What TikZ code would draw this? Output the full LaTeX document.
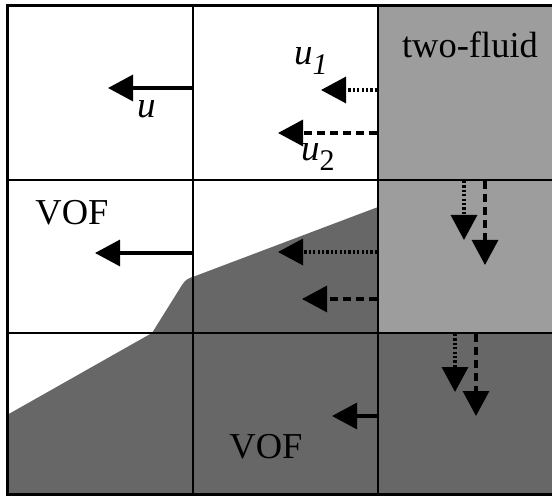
\documentclass[tikz,border=0pt]{standalone}
\usepackage{fontspec}
\setmainfont{Liberation Serif}
\usetikzlibrary{arrows.meta}
\definecolor{lightfluid}{RGB}{157,157,157}
\definecolor{darkfluid}{RGB}{103,103,103}
\begin{document}
\begin{tikzpicture}[x=1pt,y=-1pt,
  gridline/.style={line width=2.4pt,black},
  vel/.style={line width=3.2pt,-{Triangle[length=25pt,width=26pt]}},
  dotline/.style={vel,dash pattern=on 2.2pt off 2.2pt},
  dashline/.style={vel,dash pattern=on 8pt off 5pt},
  lbl/.style={font=\fontsize{36.5}{40}\selectfont,inner sep=0pt,anchor=base},
  ulbl/.style={font=\fontsize{37}{40}\selectfont\itshape,inner sep=0pt,anchor=base west}]
\useasboundingbox (0,0) rectangle (552,497);
\fill[white] (0,0) rectangle (552,497);
% fills
\fill[lightfluid] (378,6) rectangle (552,333);
\fill[darkfluid] (378,333) rectangle (552,494);
\fill[darkfluid] (7,415) -- (152,333) -- (182,285) .. controls (186,279) and (189,278) .. (194,276.5) -- (378,207) -- (378,494) -- (7,494) -- cycle;
% grid
\draw[gridline] (193,6) -- (193,494);
\draw[gridline] (378,6) -- (378,494);
\draw[gridline] (7,180) -- (552,180);
\draw[gridline] (7,333) -- (552,333);
\draw[line width=3pt] (552,6) -- (7,6) -- (7,494) -- (552,494);
% coordinates
\coordinate (a1s) at (192,88);  \coordinate (a1e) at (108,88);
\coordinate (a2s) at (377,90);  \coordinate (a2e) at (321,90);
\coordinate (a3s) at (377,133); \coordinate (a3e) at (278,133);
\coordinate (a4s) at (192,253); \coordinate (a4e) at (95,253);
\coordinate (a5s) at (377,252); \coordinate (a5e) at (278,252);
\coordinate (a6s) at (377,299); \coordinate (a6e) at (302,299);
\coordinate (a7s) at (464,181); \coordinate (a7e) at (464,240);
\coordinate (a8s) at (485,181); \coordinate (a8e) at (485,265);
\coordinate (a9s) at (455,334); \coordinate (a9e) at (455,392);
\coordinate (a10s) at (476,334); \coordinate (a10e) at (476,416);
\coordinate (a11s) at (377,416); \coordinate (a11e) at (332,416);
% arrows
\draw[vel] (a1s) -- (a1e);
\draw[dotline] (a2s) -- (a2e);
\draw[dashline] (a3s) -- (a3e);
\draw[vel] (a4s) -- (a4e);
\draw[dotline] (a5s) -- (a5e);
\draw[dashline] (a6s) -- (a6e);
\draw[dotline] (a7s) -- (a7e);
\draw[dashline] (a8s) -- (a8e);
\draw[dotline] (a9s) -- (a9e);
\draw[dashline] (a10s) -- (a10e);
\draw[vel] (a11s) -- (a11e);
% labels
\node[lbl] (twofluid) at (470,58) {two-fluid};
\node[lbl] (vof1) at (72,225) {VOF};
\node[lbl] (vof2) at (266,458) {VOF};
\node[ulbl] (u) at (137,118) {u};
\node[ulbl] (u1) at (294,65) {u\raisebox{-0.25em}{\fontsize{30}{30}\selectfont 1}};
\node[ulbl] (u2) at (301,161) {u\raisebox{-0.25em}{\fontsize{30}{30}\selectfont\upshape 2}};
\end{tikzpicture}
\end{document}
